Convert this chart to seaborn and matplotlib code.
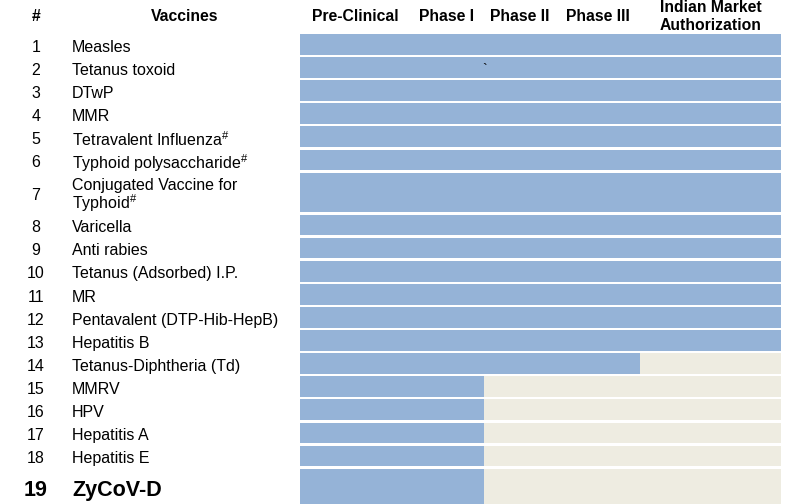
import numpy as np
import pandas as pd
import matplotlib
matplotlib.use("Agg")
import matplotlib.pyplot as plt
import matplotlib.transforms as mtransforms
import seaborn as sns

# ---------------- data ----------------
row_numbers = list(range(1, 20))
vaccines = [
    "Measles", "Tetanus toxoid", "DTwP", "MMR",
    "Tetravalent Influenza$^{\\#}$", "Typhoid polysaccharide$^{\\#}$",
    "Conjugated Vaccine for\nTyphoid$^{\\#}$",
    "Varicella", "Anti rabies", "Tetanus (Adsorbed) I.P.", "MR",
    "Pentavalent (DTP-Hib-HepB)", "Hepatitis B", "Tetanus-Diphtheria (Td)",
    "MMRV", "HPV", "Hepatitis A", "Hepatitis E", "ZyCoV-D",
]
stages = ["Pre-Clinical", "Phase I", "Phase II", "Phase III",
          "Indian Market\nAuthorization"]
# number of stages completed (5 = market authorization)
stage_reached = [5, 5, 5, 5, 5, 5, 5, 5, 5, 5, 5, 5, 5, 4, 2, 2, 2, 2, 2]

# ---------------- layout ----------------
W, H, DPI = 786, 504, 100
STAGE_WIDTHS = [110, 74, 72, 84, 141]          # column widths (px)
ROW_HEIGHTS = [1] * 6 + [1.82] + [1] * 11 + [1.75]
PITCH = 23.1                                    # px per row unit
TOP = 34                                        # px
GAP = 2.4 / PITCH
TEXT_SHIFT = 2.8 / PITCH
BLUE = "#95B3D7"
BEIGE = "#EEECE1"

sns.set_theme(style="white")
plt.rcParams["font.family"] = ["Liberation Sans", "DejaVu Sans"]
plt.rcParams["mathtext.default"] = "regular"
plt.rcParams["text.color"] = "black"

edges = np.concatenate([[0], np.cumsum(STAGE_WIDTHS)])
row_tops = np.concatenate([[0], np.cumsum(ROW_HEIGHTS)[:-1]])
total_units = sum(ROW_HEIGHTS)

df = pd.DataFrame({
    "num": row_numbers,
    "vaccine": vaccines,
    "top": row_tops,
    "h": np.array(ROW_HEIGHTS) - GAP,
    "progress": edges[np.array(stage_reached)],
    "full": edges[-1],
})

fig = plt.figure(figsize=(W / DPI, H / DPI), dpi=DPI)
ax_h = total_units * PITCH
ax = fig.add_axes([300 / W, 1 - (TOP + ax_h) / H, edges[-1] / W, ax_h / H])

ax.barh(df["top"], df["full"], height=df["h"], align="edge", color=BEIGE, linewidth=0)
ax.barh(df["top"], df["progress"], height=df["h"], align="edge", color=BLUE, linewidth=0)
ax.set_xlim(0, edges[-1])
ax.set_ylim(total_units, 0)
ax.set_axis_off()

trans_fig_x = mtransforms.blended_transform_factory(fig.transFigure, ax.transData)
trans_ax_x = mtransforms.blended_transform_factory(ax.transData, fig.transFigure)

# headers
hdr_fs = 11.3
hdr_y = 1 - 16.5 / H
fig.text(36 / W, hdr_y, "#", ha="center", va="center", fontsize=hdr_fs, fontweight="bold")
fig.text(185 / W, hdr_y, "Vaccines", ha="center", va="center", fontsize=hdr_fs, fontweight="bold")
for i, s in enumerate(stages):
    cx = (edges[i] + edges[i + 1]) / 2
    y = 1 - (16.8 / H if "\n" in s else 16.5 / H)
    ax.text(cx, y, s, transform=trans_ax_x, ha="center", va="center",
            fontsize=hdr_fs, fontweight="bold", linespacing=1.22, clip_on=False)

# rows
for _, r in df.iterrows():
    yc = r["top"] + r["h"] / 2 + TEXT_SHIFT
    last = r["num"] == 19
    fs = 15.5 if last else 11.5
    fw = "bold" if last else "normal"
    ax.text(36 / W, yc, str(r["num"]), transform=trans_fig_x, ha="center", va="center",
            fontsize=fs, fontweight=fw, clip_on=False)
    extra = 1.2 / PITCH if "\n" in r["vaccine"] else 0
    ax.text(72 / W, yc + extra, r["vaccine"], transform=trans_fig_x, ha="left", va="center",
            fontsize=fs, fontweight=fw, linespacing=0.95, clip_on=False)

# stray mark on the original slide
ax.text(485 / W, row_tops[1] + 0.57, "`", transform=trans_fig_x, ha="center",
        va="center", fontsize=10, color="black")

fig.savefig("out.png", dpi=DPI)
